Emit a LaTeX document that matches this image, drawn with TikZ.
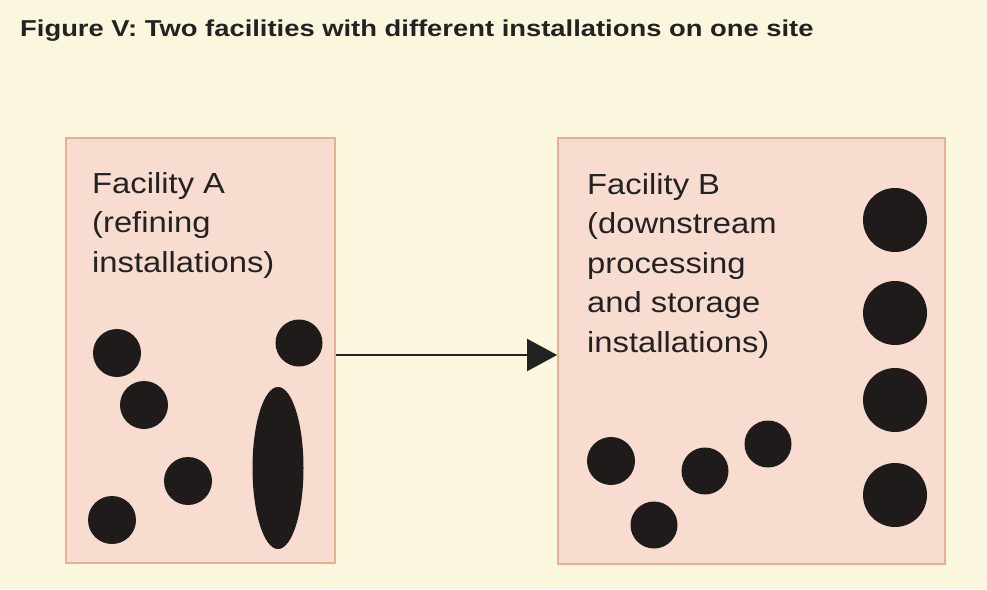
\documentclass[tikz,border=0pt]{standalone}
\usepackage{fontspec}
\setmainfont{Liberation Sans}
\newfontfamily\labelfont[FakeStretch=1.13]{Liberation Sans}
\newfontfamily\headfont[FakeStretch=1.19]{Liberation Sans}
\usetikzlibrary{arrows.meta,shapes.geometric}
\definecolor{paper}{HTML}{FBF6DE}
\definecolor{boxfill}{HTML}{F8DCD0}
\definecolor{boxline}{HTML}{E8AE96}
\definecolor{ink}{HTML}{222222}
\definecolor{blob}{HTML}{1F1B1B}
\begin{document}
\begin{tikzpicture}[x=1pt,y=-1pt,
  facility/.style={rectangle, draw=boxline, line width=1.8pt, fill=boxfill, inner sep=0pt},
  caption/.style={anchor=north west, inner sep=0pt, align=left, text=ink,
    font=\labelfont\fontsize{29}{39.5}\selectfont},
  tank/.style={circle, fill=blob, inner sep=0pt, minimum size=#1},
  tank/.default=48pt,
  tower/.style={ellipse, fill=blob, inner sep=0pt, minimum width=51pt, minimum height=162pt},
  flow/.style={draw=ink, line width=2pt, -{Triangle[length=30pt,width=32pt]}}]
  % page and title
  \fill[paper] (0,0) rectangle (987,589);
  \node[anchor=base west, inner sep=0pt, text=ink, font=\headfont\bfseries\fontsize{23}{27}\selectfont]
    (title) at (20,36) {Figure V: Two facilities with different installations on one site};

  % the two facilities
  \node[facility, minimum width=269pt, minimum height=425pt] (A) at (200.5,350.5) {};
  \node[facility, minimum width=387pt, minimum height=426pt] (B) at (751.5,351) {};

  \node[caption] (capA) at (92,172) {Facility A\\(refining\\installations)};
  \node[caption] (capB) at (587,173) {Facility B\\(downstream\\processing\\and storage\\installations)};

  % installations of facility A
  \node[tank] (a1) at (117,353) {};
  \node[tank] (a2) at (144,405) {};
  \node[tank] (a3) at (188,481) {};
  \node[tank] (a4) at (112,520) {};
  \node[tank=47pt] (a5) at (299,343) {};
  \node[tower] (a6) at (278,468) {};

  % installations of facility B
  \node[tank=64pt] (b1) at (895,220) {};
  \node[tank=64pt] (b2) at (895,313) {};
  \node[tank=64pt] (b3) at (895,400) {};
  \node[tank=64pt] (b4) at (895,495) {};
  \node[tank] (b5) at (611,461) {};
  \node[tank=47pt] (b6) at (705,471) {};
  \node[tank=47pt] (b7) at (768,444) {};
  \node[tank=47pt] (b8) at (654,525) {};

  % link between the facilities
  \draw[flow] ([yshift=-4.5pt]A.east) -- ([yshift=-4pt]B.west);
\end{tikzpicture}
\end{document}
